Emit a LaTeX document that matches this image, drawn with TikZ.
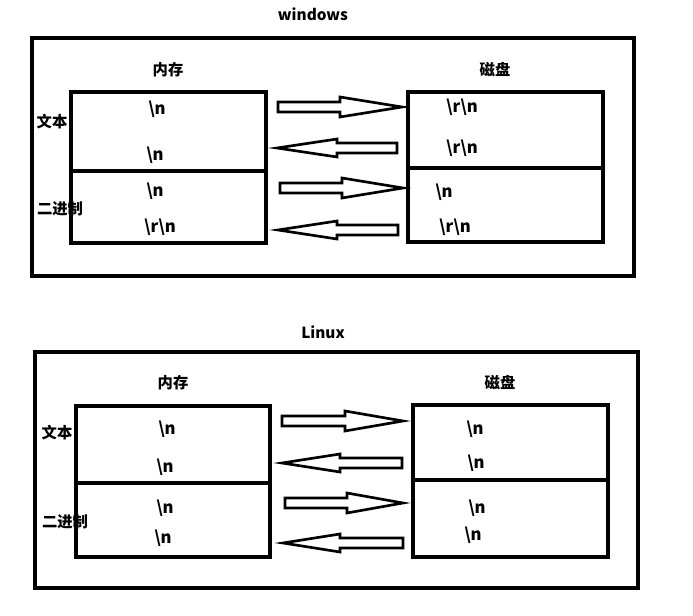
\documentclass[tikz,border=0pt]{standalone}
\usepackage{fontspec}
\setmainfont{Noto Sans CJK SC}
\newcommand\fatright[4]{% x1, xh, xt, y
  \draw[arr] (#1,#4-5) -- (#2,#4-5) -- (#2,#4-10) -- (#3,#4) -- (#2,#4+10) -- (#2,#4+5) -- (#1,#4+5) -- cycle;}
\newcommand\fatleft[4]{% xt, xh, x2, y
  \draw[arr] (#1,#4) -- (#2,#4-9) -- (#2,#4-5) -- (#3,#4-5) -- (#3,#4+5) -- (#2,#4+5) -- (#2,#4+9) -- cycle;}
\begin{document}
\begin{tikzpicture}[x=0.75pt,y=-0.75pt,
  frame/.style={draw=black,line width=2.4pt},
  arr/.style={draw=black,fill=white,line width=2pt,line join=miter},
  lbl/.style={font=\bfseries\fontsize{11.5}{13}\selectfont,inner sep=0pt},
  code/.style={font=\bfseries\fontsize{12.5}{14}\selectfont,inner sep=0pt}]
\useasboundingbox (0,0) rectangle (693,616);
\fill[white] (0,0) rectangle (693,616);
% ---------- windows ----------
\draw[frame] (32,38) rectangle (634,276);
\node[lbl] (wtitle) at (313,14) {windows};
\node[lbl] (wmem) at (168,70) {内存};
\node[lbl] (wdisk) at (495,70) {磁盘};
\draw[frame] (71,92) rectangle (266,243);
\draw[frame] (71,171) -- (266,171);
\draw[frame] (408,92) rectangle (603,242);
\draw[frame] (408,168) -- (603,168);
\node[lbl] (wtext) at (52,122) {文本};
\node[lbl] (wbin) at (60,209) {二进制};
\node[code] (wm1) at (157,109) {\textbackslash n};
\node[code] (wm2) at (155,155) {\textbackslash n};
\node[code] (wm3) at (155,191) {\textbackslash n};
\node[code] (wm4) at (160,227) {\textbackslash r\textbackslash n};
\node[code] (wd1) at (462,107) {\textbackslash r\textbackslash n};
\node[code] (wd2) at (462,148) {\textbackslash r\textbackslash n};
\node[code] (wd3) at (444,192) {\textbackslash n};
\node[code] (wd4) at (455,227) {\textbackslash r\textbackslash n};
\fatright{278}{340}{402}{107}
\fatleft{277}{337}{397}{148}
\fatright{280}{342}{403}{188}
\fatleft{278}{337}{398}{230}
% ---------- Linux ----------
\draw[frame] (35,352) rectangle (638,588);
\node[lbl] (ltitle) at (323,332) {Linux};
\node[lbl] (lmem) at (173,383) {内存};
\node[lbl] (ldisk) at (500,383) {磁盘};
\draw[frame] (76,406) rectangle (270,557);
\draw[frame] (76,483) -- (270,483);
\draw[frame] (413,405) rectangle (608,557);
\draw[frame] (413,480) -- (608,480);
\node[lbl] (ltext) at (57,433) {文本};
\node[lbl] (lbin) at (65,522) {二进制};
\node[code] (lm1) at (167,429) {\textbackslash n};
\node[code] (lm2) at (165,467) {\textbackslash n};
\node[code] (lm3) at (165,508) {\textbackslash n};
\node[code] (lm4) at (163,538) {\textbackslash n};
\node[code] (ld1) at (475,429) {\textbackslash n};
\node[code] (ld2) at (476,463) {\textbackslash n};
\node[code] (ld3) at (477,508) {\textbackslash n};
\node[code] (ld4) at (473,535) {\textbackslash n};
\fatright{282}{345}{403}{421}
\fatleft{282}{340}{402}{463}
\fatright{285}{347}{403}{503}
\fatleft{283}{340}{403}{543}
\end{tikzpicture}
\end{document}
